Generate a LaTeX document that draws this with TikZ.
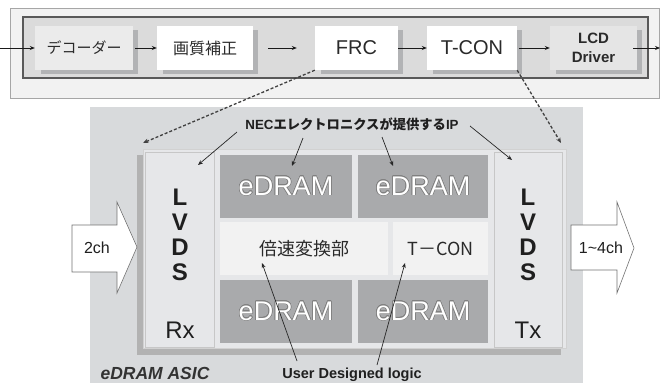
\documentclass[tikz,border=0pt]{standalone}
\usepackage{fontspec}
\setmainfont{Liberation Sans}
\newfontfamily\jp{Noto Sans CJK JP}
\usepackage[copies]{contour}
\contourlength{0.6pt}
\usetikzlibrary{arrows.meta,calc}
\definecolor{txt}{HTML}{2A2A2A}
\definecolor{shad}{HTML}{B2B3B5}
\definecolor{asic}{HTML}{D8DADC}
\definecolor{chip}{HTML}{E6E7E9}
\definecolor{edram}{HTML}{A9AAAC}
\definecolor{mid}{HTML}{F2F2F2}
\tikzset{
  topbox/.style={draw=none,inner sep=0pt,text=txt,align=center},
  flowarr/.style={draw=black!90,line width=0.9pt,-{Stealth[length=5pt,width=4pt]}},
  ptr/.style={draw=black!85,line width=0.7pt,-{Stealth[length=5pt,width=4pt]}},
  dptr/.style={draw=black!75,line width=1.3pt,dash pattern=on 3pt off 2pt,-{Stealth[length=5.5pt,width=4.5pt]}},
  blk/.style={inner sep=0pt,draw=none},
  ednode/.style={blk,fill=edram,text=white,font=\fontsize{27}{27}\selectfont},
  bigarr/.style={fill=white,draw=black!55,line width=0.6pt},
  lbl/.style={inner sep=0pt,text=black!88},
}
\newcommand{\edtxt}{\contour{black!50}{eDRAM}}
\begin{document}
\begin{tikzpicture}[x=1pt,y=-1pt]
\useasboundingbox (0,0) rectangle (660,383);
\fill[white] (0,0) rectangle (660,383);
% ---------- top band ----------
\draw[fill=black!5,draw=black!35,line width=0.8pt] (10,8) rectangle (659,98);
\draw[fill=black!14,draw=black!65,line width=1.2pt] (23,17) rectangle (648,78);
\foreach \a/\b in {35/133,157/253,315/398,427/517,550/637}{
  \fill[shad] (\a+6,30) rectangle (\b+5,74);
}
\node[topbox,fill=black!8,minimum width=98pt,minimum height=44pt,font=\jp\fontsize{15}{15}\selectfont] (dec) at (84,48) {デコーダー};
\node[topbox,fill=white,minimum width=96pt,minimum height=44pt,font=\jp\fontsize{16}{16}\selectfont] (iq) at (205,48) {画質補正};
\node[topbox,fill=white,minimum width=83pt,minimum height=44pt,font=\fontsize{20}{20}\selectfont] (frc) at (356.5,48) {FRC};
\node[topbox,fill=white,minimum width=90pt,minimum height=44pt,font=\fontsize{20}{20}\selectfont] (tcon) at (472,48) {T-CON};
\node[topbox,fill=black!10,minimum width=87pt,minimum height=44pt,font=\bfseries\fontsize{15}{19}\selectfont] (lcd) at (593.5,48) {LCD\\Driver};
\coordinate (inL) at (0,48);
\coordinate (outR) at (660,48);
\draw[flowarr] (inL) -- (dec);
\draw[flowarr,shorten <=2pt] (dec) -- (iq);
\draw[flowarr,shorten <=15pt,shorten >=18pt] (iq) -- (frc);
\draw[flowarr] (frc) -- (tcon);
\draw[flowarr,shorten <=2pt] (tcon) -- (lcd);
\draw[flowarr,shorten <=-4pt] (lcd) -- (outR);
% ---------- ASIC ----------
\fill[asic] (90,107) rectangle (583,383);
\fill[black!30] (137,155) rectangle (561,355);
\draw[fill=chip,draw=black!18,line width=0.6pt] (143,149) rectangle (566,348);
\node[blk,fill=chip,draw=black!22,line width=0.5pt,minimum width=69pt,minimum height=195pt] (rx) at (180,249.5) {};
\node[blk,fill=chip,draw=black!22,line width=0.5pt,minimum width=68pt,minimum height=195pt] (tx) at (528,249.5) {};
\node[lbl,font=\bfseries\fontsize{24}{25}\selectfont,align=center] (lvdsL) at (180,235) {L\\V\\D\\S};
\node[lbl,font=\fontsize{24}{24}\selectfont] (rxt) at (180,330) {Rx};
\node[lbl,font=\bfseries\fontsize{24}{25}\selectfont,align=center] (lvdsR) at (528,235) {L\\V\\D\\S};
\node[lbl,font=\fontsize{24}{24}\selectfont] (txt2) at (528,330) {Tx};
\node[ednode,minimum width=132pt,minimum height=63pt] (e1) at (286,186.5) {\edtxt};
\node[ednode,minimum width=130pt,minimum height=63pt] (e2) at (423,186.5) {\edtxt};
\node[ednode,minimum width=132pt,minimum height=63pt] (e3) at (286,311.5) {\edtxt};
\node[ednode,minimum width=130pt,minimum height=63pt] (e4) at (423,311.5) {\edtxt};
\node[blk,fill=mid,minimum width=168pt,minimum height=53pt,text=txt,font=\jp\fontsize{18}{18}\selectfont] (conv) at (304,248.5) {倍速変換部};
\node[blk,fill=mid,minimum width=95pt,minimum height=53pt,text=txt,font=\jp\fontsize{18}{18}\selectfont] (tc2) at (440.5,248.5) {T－CON};
% in/out arrows
\draw[bigarr] (72,225) -- (117,225) -- (117,202) -- (137,247) -- (117,293) -- (117,272) -- (72,272) -- cycle;
\node[lbl,font=\fontsize{16}{16}\selectfont] (ch2) at (97,248) {2ch};
\draw[bigarr] (571,225) -- (617,225) -- (617,202) -- (634,248) -- (617,293) -- (617,270) -- (571,270) -- cycle;
\node[lbl,font=\fontsize{16}{16}\selectfont] (ch4) at (601,248) {1\raisebox{0.5pt}{\textasciitilde}4ch};
% labels
\node[lbl,font=\bfseries\fontsize{13.3}{13.3}\selectfont] (nec) at (352,124) {NEC{\jp\bfseries エレクトロニクスが提供する}IP};
\node[lbl,font=\bfseries\fontsize{14.5}{14.5}\selectfont] (udl) at (352,375) {User Designed logic};
\node[lbl,font=\bfseries\itshape\fontsize{17.5}{17.5}\selectfont,text=black!80] (asiclbl) at (155,373) {eDRAM ASIC};
% pointers
\coordinate (p1s) at (237,132); \coordinate (p1e) at (198,165);
\coordinate (p2s) at (303,138); \coordinate (p2e) at (292,166);
\coordinate (p3s) at (382,137); \coordinate (p3e) at (393,166);
\coordinate (p4s) at (470,126); \coordinate (p4e) at (512,160);
\draw[ptr] (p1s) -- (p1e);
\draw[ptr] (p2s) -- (p2e);
\draw[ptr] (p3s) -- (p3e);
\draw[ptr] (p4s) -- (p4e);
\coordinate (u1s) at (297,361); \coordinate (u1e) at (262,263);
\coordinate (u2s) at (377,365); \coordinate (u2e) at (405,263);
\draw[ptr] (u1s) -- (u1e);
\draw[ptr] (u2s) -- (u2e);
% dashed
\coordinate (d1e) at (143,143);
\coordinate (d2e) at (561,143);
\draw[dptr] (frc.south west) -- (d1e);
\draw[dptr] (tcon.south east) -- (d2e);
\end{tikzpicture}
\end{document}
